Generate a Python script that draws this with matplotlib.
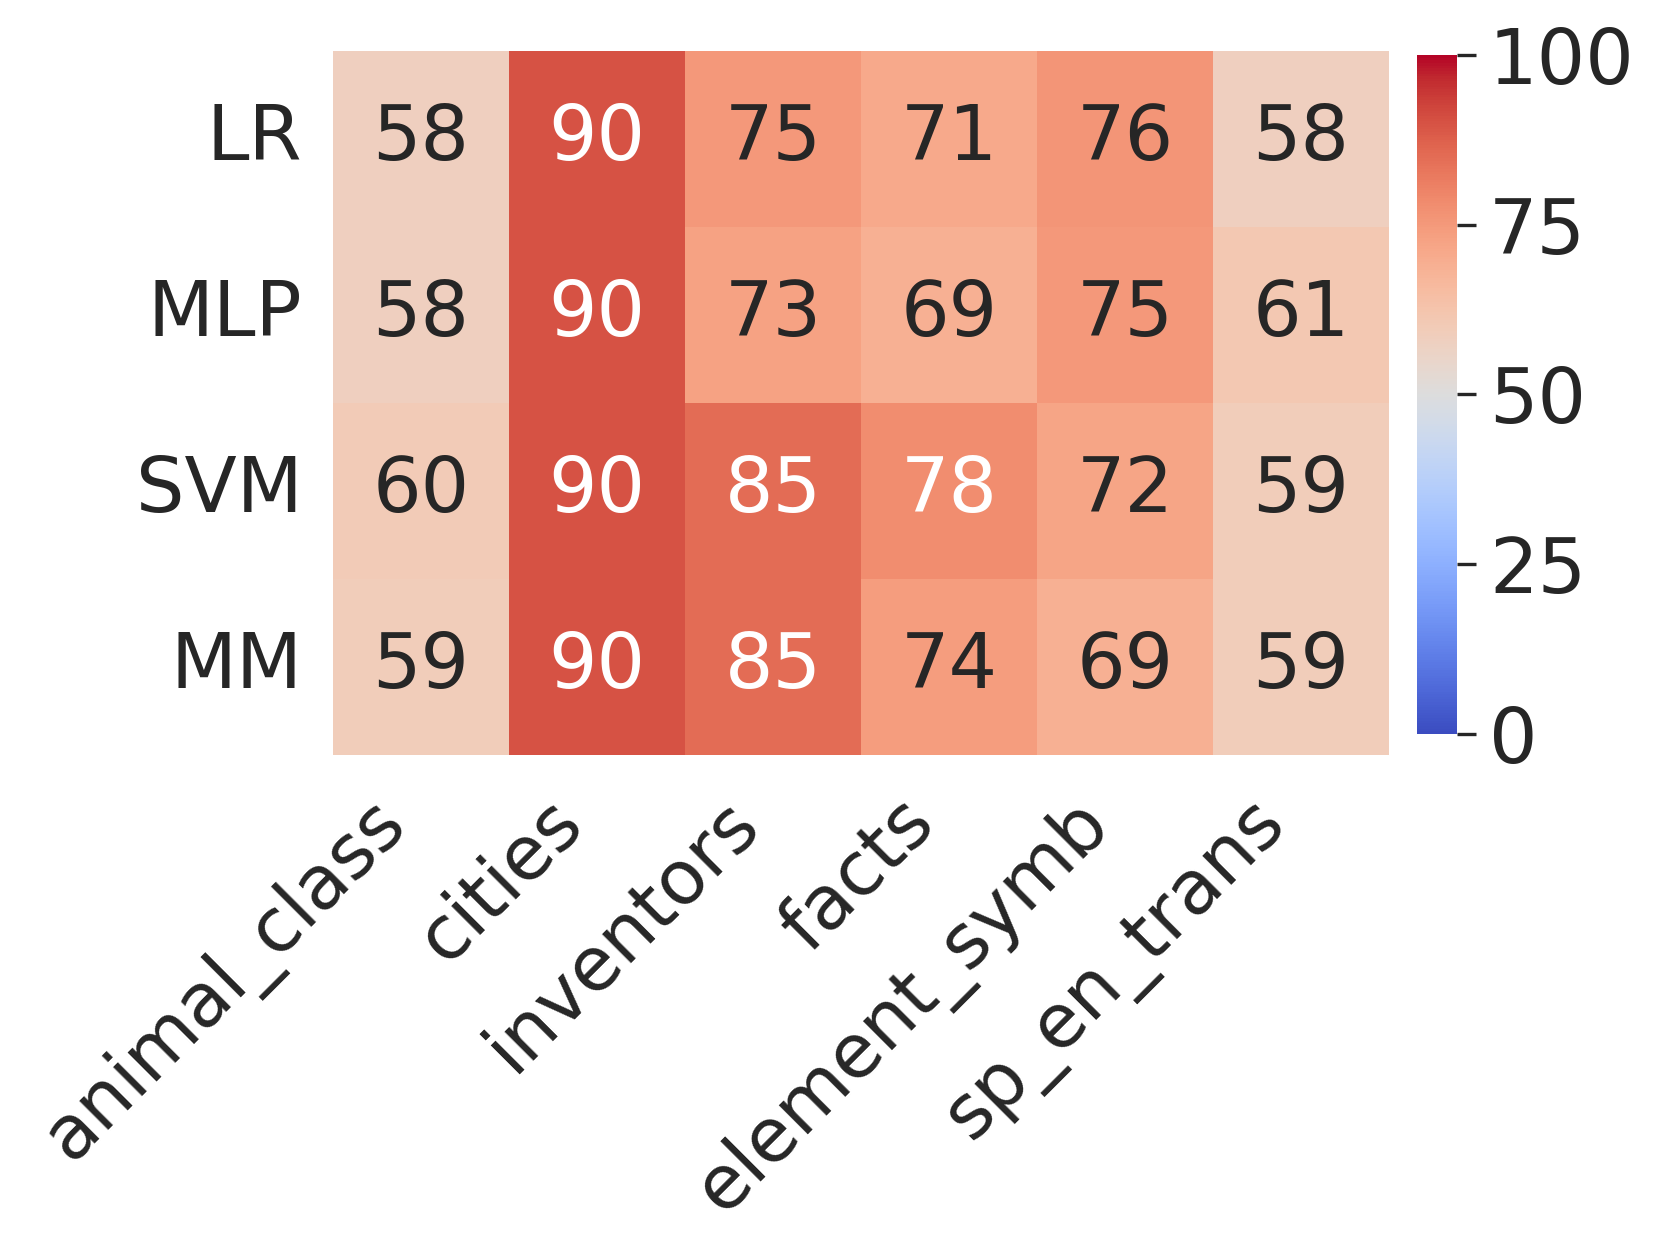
import numpy as np
import pandas as pd
import matplotlib
matplotlib.use("Agg")
import matplotlib.pyplot as plt
import seaborn as sns

sns.set_theme(style="white", font_scale=2.6)

models = ["LR", "MLP", "SVM", "MM"]
datasets = ["animal_class", "cities", "inventors", "facts", "element_symb", "sp_en_trans"]
lr = [58, 90, 75, 71, 76, 58]
mlp = [58, 90, 73, 69, 75, 61]
svm = [60, 90, 85, 78, 72, 59]
mm = [59, 90, 85, 74, 69, 59]

df = pd.DataFrame([lr, mlp, svm, mm], index=models, columns=datasets)

fig = plt.figure(figsize=(8.3, 6.3), dpi=200)
ax = fig.add_axes([0.2006, 0.401, 0.6361, 0.5587])
cax = fig.add_axes([0.8536, 0.4175, 0.0241, 0.5389])

sns.heatmap(df, ax=ax, cbar_ax=cax, cmap="coolwarm", vmin=0, vmax=100,
            annot=True, fmt="d", annot_kws={"fontsize": 27.5})

ax.set_xticklabels(datasets, rotation=45, ha="right")
ax.set_yticklabels(models, rotation=0)
ax.tick_params(axis="x", length=0, labelsize=27, pad=11)
ax.tick_params(axis="y", length=0, labelsize=27.5, pad=11)
cax.set_yticks([0, 25, 50, 75, 100])
cax.tick_params(labelsize=27.5, length=7, width=1.2, pad=4.5, left=False, right=True)
for s in cax.spines.values():
    s.set_visible(False)

fig.savefig("out.png", dpi=200)
